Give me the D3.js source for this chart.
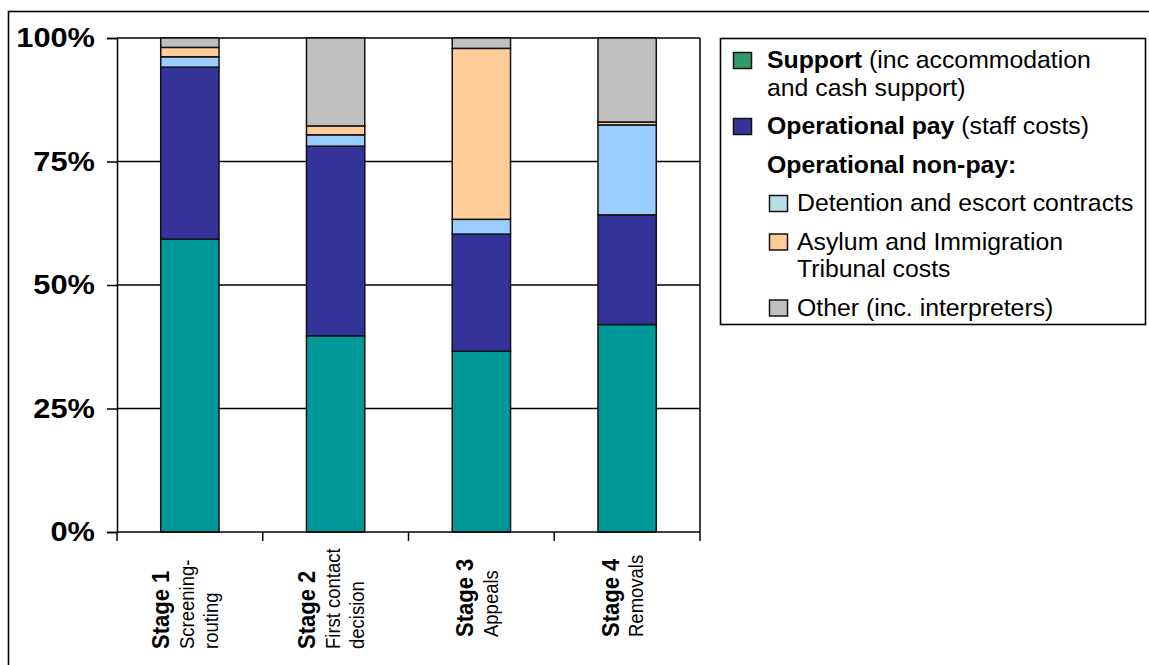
<!DOCTYPE html>
<html>
<head>
<meta charset="utf-8">
<script src="https://cdn.jsdelivr.net/npm/d3@7"></script>
<style>
  html, body { margin: 0; padding: 0; background: #fff; }
  svg { display: block; }
  text { font-family: "Liberation Sans", Arial, sans-serif; fill: #000; }
</style>
</head>
<body>
<svg id="chart" width="1149" height="665"></svg>
<script>
// Cost breakdown by stage of the asylum process (% of stage total)
const stages = ["Stage 1", "Stage 2", "Stage 3", "Stage 4"];
const stageDescriptions = [["Screening-", "routing"], ["First contact", "decision"], ["Appeals"], ["Removals"]];

const seriesKeys = ["support", "opPay", "detention", "asylum", "other"];
const support   = [59.3, 39.7, 36.6, 42.0];
const opPay     = [34.8, 38.4, 23.7, 22.2];
const detention = [2.1, 2.3, 3.0, 18.2];
const asylum    = [1.9, 1.8, 34.6, 0.6];
const other     = [1.9, 17.8, 2.1, 17.0];

const yTicks = [0, 25, 50, 75, 100];
const yTickLabels = ["0%", "25%", "50%", "75%", "100%"];

const barColors = {
  support: "#009999", opPay: "#333399", detention: "#99CCFF", asylum: "#FFCC99", other: "#C0C0C0"
};

// Legend entries: level 0 sits flush left, level 1 is indented under the heading
const legendBold = ["Support", "Operational pay", "Operational non-pay:", "", "", ""];
const legendRegular = [[" (inc accommodation", "and cash support)"], [" (staff costs)"], [""],
  ["Detention and escort contracts"], ["Asylum and Immigration", "Tribunal costs"], ["Other (inc. interpreters)"]];
const legendSwatch = ["#339966", "#333399", null, "#B8E0E4", "#FFCC99", "#C0C0C0"];
const legendLevel = [0, 0, 0, 1, 1, 1];

const seriesValues = { support, opPay, detention, asylum, other };
const table = stages.map((s, i) => {
  const row = { stage: s };
  seriesKeys.forEach(k => row[k] = seriesValues[k][i]);
  return row;
});

const svg = d3.select("#chart");

// outer frame (left and top edges visible)
svg.append("rect")
  .attr("x", 8.5).attr("y", 11.5).attr("width", 1200).attr("height", 700)
  .attr("fill", "none").attr("stroke", "#000").attr("stroke-width", 1.6);

const plot = { left: 117, right: 700, top: 38, bottom: 532 };

const x = d3.scaleBand().domain(stages)
  .range([plot.left, plot.right]).paddingInner(0.6).paddingOuter(0.3);
const y = d3.scaleLinear().domain([0, 100]).range([plot.bottom, plot.top]);

// gridlines
svg.append("g").selectAll("line").data(yTicks.filter(t => t > 0)).join("line")
  .attr("x1", plot.left).attr("x2", plot.right)
  .attr("y1", d => y(d)).attr("y2", d => y(d))
  .attr("stroke", "#000").attr("stroke-width", 1.5);

// right edge of plot area
svg.append("line")
  .attr("x1", plot.right).attr("x2", plot.right)
  .attr("y1", plot.top).attr("y2", plot.bottom)
  .attr("stroke", "#000").attr("stroke-width", 1.5);

// stacked bars
const stack = d3.stack().keys(seriesKeys)(table);
svg.append("g").selectAll("g").data(stack).join("g")
  .attr("fill", d => barColors[d.key])
  .selectAll("rect").data(d => d).join("rect")
  .attr("x", d => x(d.data.stage))
  .attr("width", x.bandwidth())
  .attr("y", d => y(d[1]))
  .attr("height", d => y(d[0]) - y(d[1]))
  .attr("stroke", "#111").attr("stroke-width", 1.5);

// y axis
const yAxis = svg.append("g").attr("transform", `translate(${plot.left},0)`)
  .call(d3.axisLeft(y).tickValues(yTicks).tickFormat((d, i) => yTickLabels[i]).tickSize(10).tickPadding(0));
yAxis.select(".domain").attr("stroke", "#000").attr("stroke-width", 1.5);
yAxis.selectAll(".tick line").attr("stroke", "#000").attr("stroke-width", 1.5);
// labels are drawn slightly wide, anchored at their right edge
yAxis.selectAll(".tick text")
  .attr("x", null)
  .attr("transform", "translate(-22,0) scale(1.1,1)")
  .attr("font-family", "Liberation Sans, Arial, sans-serif")
  .attr("font-size", 28).attr("font-weight", "bold").attr("fill", "#000");

// x axis with ticks at category boundaries
svg.append("line")
  .attr("x1", plot.left).attr("x2", plot.right)
  .attr("y1", plot.bottom).attr("y2", plot.bottom)
  .attr("stroke", "#000").attr("stroke-width", 1.5);
const step = x.step();
const boundaries = d3.range(stages.length + 1).map(i => plot.left + i * step);
svg.append("g").selectAll("line").data(boundaries).join("line")
  .attr("x1", d => d).attr("x2", d => d)
  .attr("y1", plot.bottom).attr("y2", plot.bottom + 9)
  .attr("stroke", "#000").attr("stroke-width", 1.5);

// rotated category labels (glyphs widened across the reading direction)
const lineGap = 24.5;
const stretch = 1.12;
const labels = svg.append("g").selectAll("g").data(stages).join("g")
  .attr("transform", (d, i) => {
    const n = 1 + stageDescriptions[i].length;
    const cx = x(d) + x.bandwidth() / 2;
    const firstBaseline = cx + 4 - (n - 1) * lineGap / 2;
    const startY = 637 + (n - 2) * 12;
    return `translate(${firstBaseline},${startY}) rotate(-90) scale(1,${stretch})`;
  });
labels.append("text")
  .attr("x", 0).attr("y", 0)
  .attr("font-size", 22).attr("font-weight", "bold")
  .text(d => d);
labels.each(function (d, i) {
  d3.select(this).selectAll("text.desc").data(stageDescriptions[i]).join("text")
    .attr("class", "desc")
    .attr("x", 0).attr("y", (t, j) => (j + 1) * lineGap / stretch)
    .attr("font-size", 18.5)
    .text(t => t);
});

// legend
const legend = svg.append("g");
legend.append("rect")
  .attr("x", 720.5).attr("y", 38.5).attr("width", 425).attr("height", 286)
  .attr("fill", "#fff").attr("stroke", "#000").attr("stroke-width", 1.6);

let baseline = 68;
legendBold.forEach((b, i) => {
  const lvl = legendLevel[i];
  const textX = lvl === 0 ? 767 : 797;
  const swX = lvl === 0 ? 733.5 : 769.5;
  if (legendSwatch[i]) {
    legend.append("rect")
      .attr("x", swX).attr("y", baseline - 15.5)
      .attr("width", 18).attr("height", 16)
      .attr("fill", legendSwatch[i]).attr("stroke", "#111").attr("stroke-width", 1.5);
  }
  legendRegular[i].forEach((line, j) => {
    const t = legend.append("text")
      .attr("x", textX).attr("y", baseline + j * 27.5)
      .attr("font-size", 24.8);
    if (j === 0 && b) t.append("tspan").attr("font-weight", "bold").text(b);
    if (line) t.append("tspan").text(line);
  });
  baseline += (legendRegular[i].length - 1) * 27.5 + 38.5;
});
</script>
</body>
</html>
